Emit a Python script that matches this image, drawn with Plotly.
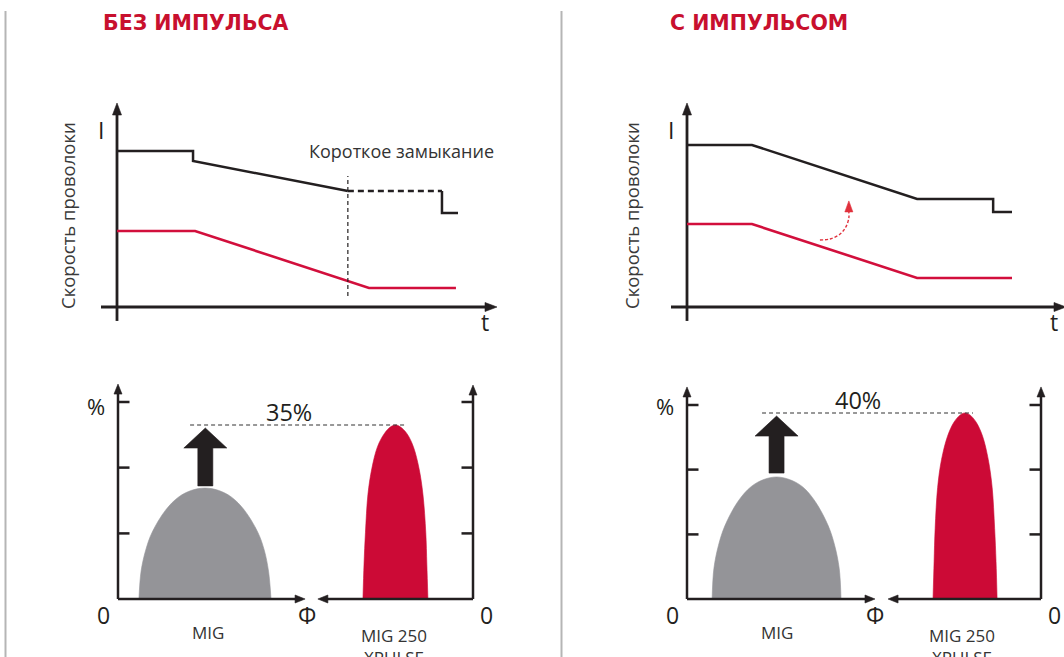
import plotly.graph_objects as go

W, H = 1064, 657
BLACK = '#231f20'
RED_LINE = '#d20f3c'
RED_FILL = '#cc0a36'
GRAY_FILL = '#949498'
TITLE_RED = '#c8102e'
TEXT = '#2b2b2b'
SEP = '#b5b5b5'
FONT = 'Open Sans'
TITLE_FONT = 'DejaVu Sans'

# ---------------- data ----------------
titles = ['БЕЗ ИМПУЛЬСА', 'С ИМПУЛЬСОМ']
y_label = 'Скорость проволоки'
short_circuit_label = 'Короткое замыкание'

# upper panels: time t vs current I and wire speed (arbitrary units)
nopulse_I_t = [0, 2.23, 2.23, 6.77]
nopulse_I = [9.18, 9.18, 8.59, 6.82]
nopulse_sc_t = [6.77, 9.53]          # short circuit, dashed part
nopulse_sc_I = [6.82, 6.82]
nopulse_end_t = [9.53, 9.53, 10.0]
nopulse_end_I = [6.82, 5.53, 5.53]
nopulse_wire_t = [0, 2.29, 7.39, 9.94]
nopulse_wire = [4.47, 4.47, 1.12, 1.12]
short_circuit_t = [6.77, 6.77]
short_circuit_v = [0.65, 7.7]

pulse_I_t = [0, 2.0, 7.08, 9.42, 9.42, 10.0]
pulse_I = [9.53, 9.53, 6.35, 6.35, 5.59, 5.59]
pulse_wire_t = [0, 2.0, 7.08, 10.0]
pulse_wire = [4.88, 4.88, 1.71, 1.71]
pulse_hint_t = [4.09, 4.40, 4.71, 4.89, 4.98, 4.98]
pulse_hint_v = [3.94, 4.00, 4.29, 4.71, 5.24, 5.59]
pulse_hint_tip = [4.98, 6.24]

# lower panels: distribution along Ф (0..100 between the two axes), share in %
mig_L_phi = [5.9, 6.5, 7.8, 9.6, 13.4, 17.1, 20.8, 24.5, 28.2, 31.9, 35.6, 39.4, 41.2, 42.4, 43.1]
mig_L_pct = [0, 14.1, 24.8, 33.8, 45.1, 51.8, 55.2, 56.3, 55.2, 51.8, 45.1, 33.8, 24.8, 14.1, 0]
xp_L_phi = [69.0, 69.3, 69.7, 70.4, 71.5, 73.1, 75.0, 76.8, 78.2, 79.5, 81.4, 83.2, 84.8, 85.9, 86.7, 87.0, 87.3]
xp_L_pct = [0, 17.7, 33.6, 53.0, 66.2, 77.3, 83.9, 87.4, 88.3, 87.4, 83.9, 77.3, 66.2, 53.0, 33.6, 17.7, 0]
mig_R_phi = [7.1, 7.6, 8.9, 10.7, 14.4, 18.1, 21.7, 25.3, 28.9, 32.6, 36.2, 39.9, 41.7, 43.0, 43.5]
mig_R_pct = [0, 15.7, 27.7, 37.7, 50.3, 57.9, 61.6, 62.9, 61.6, 57.9, 50.3, 37.7, 27.7, 15.7, 0]
xp_R_phi = [69.5, 69.8, 70.1, 70.8, 71.9, 73.6, 75.4, 77.2, 78.5, 79.9, 81.7, 83.5, 85.1, 86.2, 86.9, 87.3, 87.6]
xp_R_pct = [0, 19.2, 36.4, 57.5, 71.9, 83.9, 91.1, 94.9, 95.9, 94.9, 91.1, 83.9, 71.9, 57.5, 36.4, 19.2, 0]
pct_ticks = [33.3, 66.7, 100]
gain_labels = ['35%', '40%']
gain_arrow_x = [24.6, 25.3]
gain_arrow_from = [57.4, 64.9]
gain_arrow_to = [86.8, 94.3]
gap_from = [20.3, 21.2]
gap_to = [80.6, 80.8]
gap_level = [88.3, 95.9]
method_labels = ['MIG', 'MIG 250<br>XPULSE']

# ---------------- layout helpers ----------------
PANELS = {
    'TL': dict(box=(30, 540, 60, 345), origin=(117, 307), scale=(34.1, 17.0)),
    'TR': dict(box=(570, 1064, 60, 345), origin=(687, 307), scale=(32.5, 17.0)),
    'BL': dict(box=(30, 540, 360, 657), origin=(118, 599), scale=(3.55, 1.97)),
    'BR': dict(box=(570, 1064, 360, 657), origin=(687, 599), scale=(3.54, 1.94)),
}

fig = go.Figure()
AX = {}
axes_layout = {}
for n, (key, p) in enumerate(PANELS.items(), start=1):
    x0, x1, y0, y1 = p['box']
    ox, oy = p['origin']
    sx, sy = p['scale']
    sfx = '' if n == 1 else str(n)
    axes_layout['xaxis' + sfx] = dict(domain=[x0 / W, x1 / W], range=[(x0 - ox) / sx, (x1 - ox) / sx],
                                      visible=False, fixedrange=True, anchor='y' + sfx)
    axes_layout['yaxis' + sfx] = dict(domain=[1 - y1 / H, 1 - y0 / H], range=[(oy - y1) / sy, (oy - y0) / sy],
                                      visible=False, fixedrange=True, anchor='x' + sfx)
    AX[key] = ('x' + sfx, 'y' + sfx)


def trace(key, xs, ys, color, width=2.5, dash=None, fill=None, shape='linear'):
    xa, ya = AX[key]
    fig.add_trace(go.Scatter(x=xs, y=ys, xaxis=xa, yaxis=ya, mode='lines',
                             line=dict(color=color, width=width, dash=dash, shape=shape),
                             fill=fill, fillcolor=color if fill else None,
                             hoverinfo='skip', showlegend=False, cliponaxis=False))


def head(key, tx, ty, direction, length, width, color=BLACK):
    sx, sy = PANELS[key]['scale']
    if direction == 'up':
        xs = [tx, tx - width / 2 / sx, tx + width / 2 / sx, tx]
        ys = [ty, ty - length / sy, ty - length / sy, ty]
    elif direction == 'right':
        xs = [tx, tx - length / sx, tx - length / sx, tx]
        ys = [ty, ty + width / 2 / sy, ty - width / 2 / sy, ty]
    else:
        xs = [tx, tx + length / sx, tx + length / sx, tx]
        ys = [ty, ty + width / 2 / sy, ty - width / 2 / sy, ty]
    trace(key, xs, ys, color, width=0.6, fill='toself')


def axis_arrow(key, x0, y0, x1, y1, direction, length, width, lw):
    sx, sy = PANELS[key]['scale']
    back = length * 0.7
    if direction == 'up':
        ex, ey = x1, y1 - back / sy
    elif direction == 'right':
        ex, ey = x1 - back / sx, y1
    else:
        ex, ey = x1 + back / sx, y1
    trace(key, [x0, ex], [y0, ey], BLACK, lw)
    head(key, x1, y1, direction, length, width)


def label(key, x, y, text, size, color=TEXT, family=FONT, **kw):
    xa, ya = AX[key] if key else ('paper', 'paper')
    kw.setdefault('xanchor', 'center')
    kw.setdefault('yanchor', 'middle')
    fig.add_annotation(x=x, y=y, xref=xa, yref=ya, text=text, showarrow=False,
                       font=dict(family=family, size=size, color=color), **kw)


def px_to_paper(px, py):
    return px / W, 1 - py / H


# ---------------- upper panels ----------------
for key in ('TL', 'TR'):
    sx, sy = PANELS[key]['scale']
    axis_arrow(key, 0, -0.82, 0, 12.0, 'up', 12, 9, 2.8)
    right_tip = (497 - PANELS[key]['origin'][0]) / sx if key == 'TL' else (1066 - PANELS[key]['origin'][0]) / sx
    axis_arrow(key, -16 / sx, 0, right_tip, 0, 'right', 12, 9, 2.8)

# без импульса
trace('TL', nopulse_wire_t, nopulse_wire, RED_LINE, 2.6)
trace('TL', nopulse_I_t, nopulse_I, BLACK, 2.5)
trace('TL', nopulse_sc_t, nopulse_sc_I, BLACK, 2.5, dash='6px,4px')
trace('TL', nopulse_end_t, nopulse_end_I, BLACK, 2.5)
trace('TL', short_circuit_t, short_circuit_v, BLACK, 1.2, dash='4px,3px')

# с импульсом
trace('TR', pulse_wire_t, pulse_wire, RED_LINE, 2.6)
trace('TR', pulse_I_t, pulse_I, BLACK, 2.5)
trace('TR', pulse_hint_t, pulse_hint_v, '#e0303c', 1.4, dash='3px,2px', shape='spline')
head('TR', pulse_hint_tip[0], pulse_hint_tip[1], 'up', 11, 8, color='#e0303c')

# texts upper
for key in ('TL', 'TR'):
    sx, sy = PANELS[key]['scale']
    label(key, -16 / sx, 177 / sy, 'I', 23, color=BLACK)
label('TL', (485 - 117) / 34.1, (307 - 322) / 17.0, 't', 23, color=BLACK)
label('TR', (1054 - 687) / 32.5, (307 - 322) / 17.0, 't', 23, color=BLACK)
label('TL', (401 - 117) / 34.1, (307 - 151) / 17.0, short_circuit_label, 18, color='#333333')

for i, (tx, lx) in enumerate(((101, 67), (668, 631))):
    xp, yp = px_to_paper(tx, 23)
    label(None, xp, yp, '<b>' + titles[i] + '</b>', 20.5, color=TITLE_RED, family=TITLE_FONT,
          xanchor='left')
    xp, yp = px_to_paper(lx, 216)
    label(None, xp, yp, y_label, 18.5, color='#3a3a3a', textangle=-90)

# ---------------- lower panels ----------------
mig_data = [(mig_L_phi, mig_L_pct, xp_L_phi, xp_L_pct), (mig_R_phi, mig_R_pct, xp_R_phi, xp_R_pct)]
arrow_tips = {'BL': (109.1, 108.6, 52.7, 56.3), 'BR': (109.3, 109.3, 53.1, 56.8)}
for i, key in enumerate(('BL', 'BR')):
    sx, sy = PANELS[key]['scale']
    g_phi, g_pct, r_phi, r_pct = mig_data[i]
    trace(key, g_phi, g_pct, GRAY_FILL, 0.6, fill='toself', shape='spline')
    trace(key, r_phi, r_pct, RED_FILL, 0.6, fill='toself', shape='spline')

    lt, rt, xl, xr = arrow_tips[key]
    axis_arrow(key, 0, 0, 0, lt, 'up', 10, 8, 2.5)
    axis_arrow(key, 100, 0, 100, rt, 'up', 10, 8, 2.5)
    axis_arrow(key, 0, 0, xl, 0, 'right', 10, 8, 2.5)
    axis_arrow(key, 100, 0, xr, 0, 'left', 10, 8, 2.5)
    for v in pct_ticks:
        trace(key, [0, 11.5 / sx], [v, v], BLACK, 2.5)
        trace(key, [100 - 11.5 / sx, 100], [v, v], BLACK, 2.5)

    # gap line and gain arrow
    trace(key, [gap_from[i], gap_to[i]], [gap_level[i], gap_level[i]], '#333333', 1.1, dash='4px,3px')
    ax_ = gain_arrow_x[i]
    sw, hw, hl = 7.5 / sx, 21.5 / sx, 20 / sy
    hb = gain_arrow_to[i] - hl
    trace(key, [ax_ - sw, ax_ + sw, ax_ + sw, ax_ + hw, ax_, ax_ - hw, ax_ - sw, ax_ - sw],
          [gain_arrow_from[i], gain_arrow_from[i], hb, hb, gain_arrow_to[i], hb, hb, gain_arrow_from[i]],
          BLACK, 0.6, fill='toself')

    # labels
    label(key, -22 / sx, 193 / sy, '%', 22, color=BLACK)
    label(key, -15 / sx, -16 / sy, '0', 23, color=BLACK)
    label(key, 100 + 13 / sx, -16 / sy, '0', 23, color=BLACK)
    label(key, 53.2, -16 / sy, 'Ф', 23, color=BLACK)
    label(key, 48.2, gap_level[i] + 13 / sy, gain_labels[i], 23.5, color=BLACK)
    label(key, 25.3, -33 / sy, method_labels[0], 17, color='#333333')
    label(key, 77.8, -23 / sy, method_labels[1], 17, color='#333333', yanchor='top')

# separators
for sxp in (5.5, 561.5):
    fig.add_shape(type='line', xref='paper', yref='paper', x0=sxp / W, x1=sxp / W,
                  y0=0, y1=1 - 11 / H, line=dict(color=SEP, width=2))

fig.update_layout(width=W, height=H, margin=dict(l=0, r=0, t=0, b=0),
                  paper_bgcolor='white', plot_bgcolor='white', showlegend=False, **axes_layout)
fig.write_html('out.html', config={'displayModeBar': False},
               post_script="document.body.style.margin='0px';")
